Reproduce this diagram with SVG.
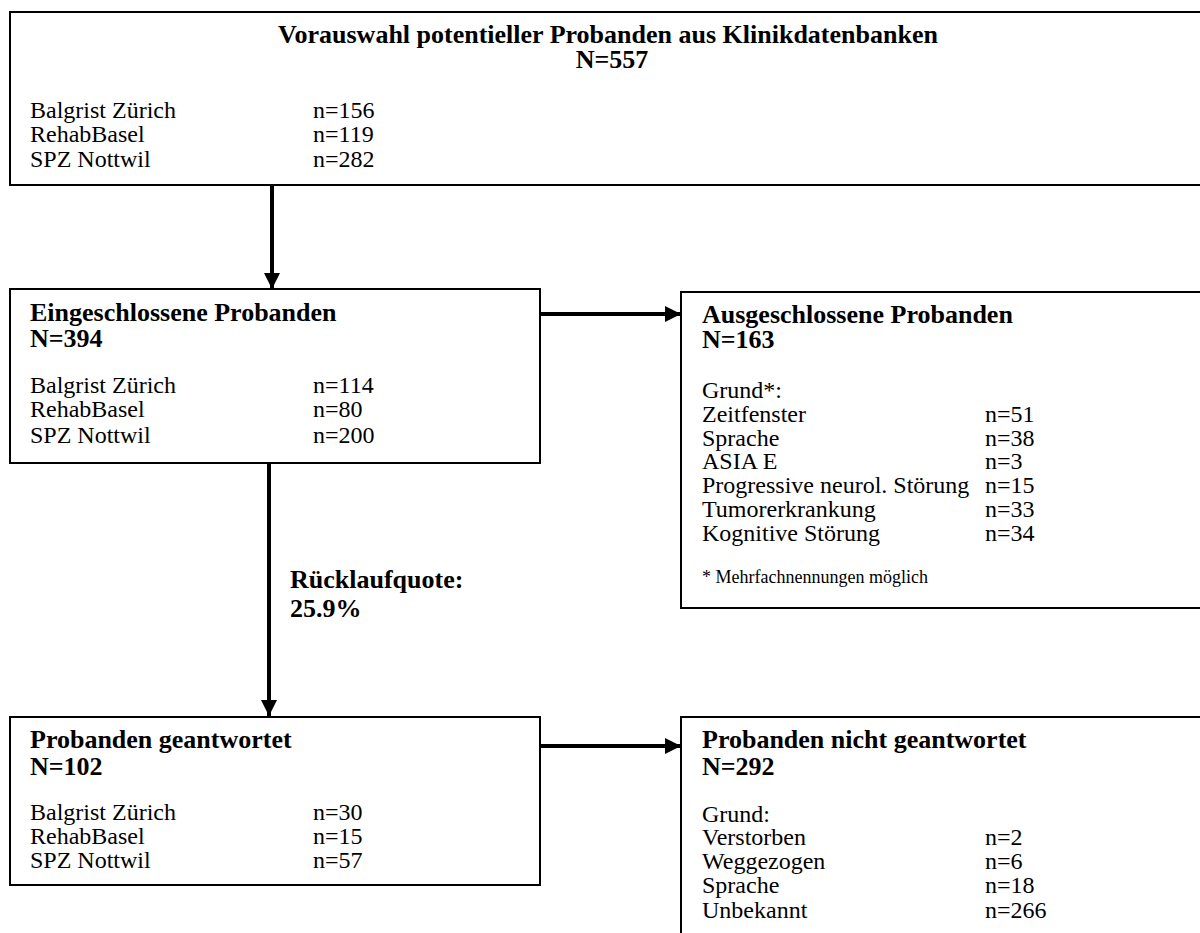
<svg xmlns="http://www.w3.org/2000/svg" width="1200" height="933" viewBox="0 0 1200 933">
<defs>
<style>
.box{fill:#fff;stroke:#000;stroke-width:2}
.t{font-family:"Liberation Serif","Times New Roman",serif;fill:#000}
.b{font-size:26px;font-weight:bold}
.r{font-size:24px}
.f{font-size:18px}
.con{stroke:#000;stroke-width:4;fill:none}
</style>
<marker id="ah" markerUnits="userSpaceOnUse" markerWidth="16" markerHeight="16" viewBox="0 0 16 16" refX="16" refY="8" orient="auto">
<path d="M0,0 L16,8 L0,16 Z" fill="#000"/>
</marker>
</defs>
<rect width="1200" height="933" fill="#fff"/>
<g id="connectors">
<line class="con" x1="272" y1="186" x2="272" y2="289" marker-end="url(#ah)"/>
<line class="con" x1="541" y1="314" x2="681" y2="314" marker-end="url(#ah)"/>
<line class="con" x1="269" y1="463" x2="269" y2="716" marker-end="url(#ah)"/>
<line class="con" x1="541" y1="746" x2="681" y2="746" marker-end="url(#ah)"/>
<g id="label-ruecklauf">
<text class="t b" x="290" y="588">Rücklaufquote:</text>
<text class="t b" x="290" y="617">25.9%</text>
</g>
</g>
<g id="node-vorauswahl">
<rect class="box" x="10" y="12" width="1200" height="173"/>
<text class="t b" x="608" y="43" text-anchor="middle">Vorauswahl potentieller Probanden aus Klinikdatenbanken</text>
<text class="t b" x="612" y="68" text-anchor="middle">N=557</text>
<text class="t r" x="30" y="118">Balgrist Zürich</text>
<text class="t r" x="313" y="118">n=156</text>
<text class="t r" x="30" y="142">RehabBasel</text>
<text class="t r" x="313" y="142">n=119</text>
<text class="t r" x="30" y="167">SPZ Nottwil</text>
<text class="t r" x="313" y="167">n=282</text>
</g>
<g id="node-eingeschlossen">
<rect class="box" x="10" y="289" width="530" height="174"/>
<text class="t b" x="30" y="321">Eingeschlossene Probanden</text>
<text class="t b" x="30" y="347">N=394</text>
<text class="t r" x="30" y="393">Balgrist Zürich</text>
<text class="t r" x="313" y="393">n=114</text>
<text class="t r" x="30" y="417">RehabBasel</text>
<text class="t r" x="313" y="417">n=80</text>
<text class="t r" x="30" y="443">SPZ Nottwil</text>
<text class="t r" x="313" y="443">n=200</text>
</g>
<g id="node-ausgeschlossen">
<rect class="box" x="681" y="292" width="530" height="316"/>
<text class="t b" x="702" y="323">Ausgeschlossene Probanden</text>
<text class="t b" x="702" y="348">N=163</text>
<text class="t r" x="702" y="398">Grund*:</text>
<text class="t r" x="702" y="422">Zeitfenster</text>
<text class="t r" x="985" y="422">n=51</text>
<text class="t r" x="702" y="446">Sprache</text>
<text class="t r" x="985" y="446">n=38</text>
<text class="t r" x="702" y="469">ASIA E</text>
<text class="t r" x="985" y="469">n=3</text>
<text class="t r" x="702" y="493">Progressive neurol. Störung</text>
<text class="t r" x="985" y="493">n=15</text>
<text class="t r" x="702" y="517">Tumorerkrankung</text>
<text class="t r" x="985" y="517">n=33</text>
<text class="t r" x="702" y="541">Kognitive Störung</text>
<text class="t r" x="985" y="541">n=34</text>
<text class="t f" x="702" y="583">* Mehrfachnennungen möglich</text>
</g>
<g id="node-geantwortet">
<rect class="box" x="10" y="717" width="530" height="168"/>
<text class="t b" x="30" y="748">Probanden geantwortet</text>
<text class="t b" x="30" y="775">N=102</text>
<text class="t r" x="30" y="820">Balgrist Zürich</text>
<text class="t r" x="313" y="820">n=30</text>
<text class="t r" x="30" y="844">RehabBasel</text>
<text class="t r" x="313" y="844">n=15</text>
<text class="t r" x="30" y="868">SPZ Nottwil</text>
<text class="t r" x="313" y="868">n=57</text>
</g>
<g id="node-nicht-geantwortet">
<rect class="box" x="681" y="717" width="530" height="240"/>
<text class="t b" x="702" y="748">Probanden nicht geantwortet</text>
<text class="t b" x="702" y="775">N=292</text>
<text class="t r" x="702" y="822">Grund:</text>
<text class="t r" x="702" y="845">Verstorben</text>
<text class="t r" x="985" y="845">n=2</text>
<text class="t r" x="702" y="869">Weggezogen</text>
<text class="t r" x="985" y="869">n=6</text>
<text class="t r" x="702" y="893">Sprache</text>
<text class="t r" x="985" y="893">n=18</text>
<text class="t r" x="702" y="918">Unbekannt</text>
<text class="t r" x="985" y="918">n=266</text>
</g>
</svg>
